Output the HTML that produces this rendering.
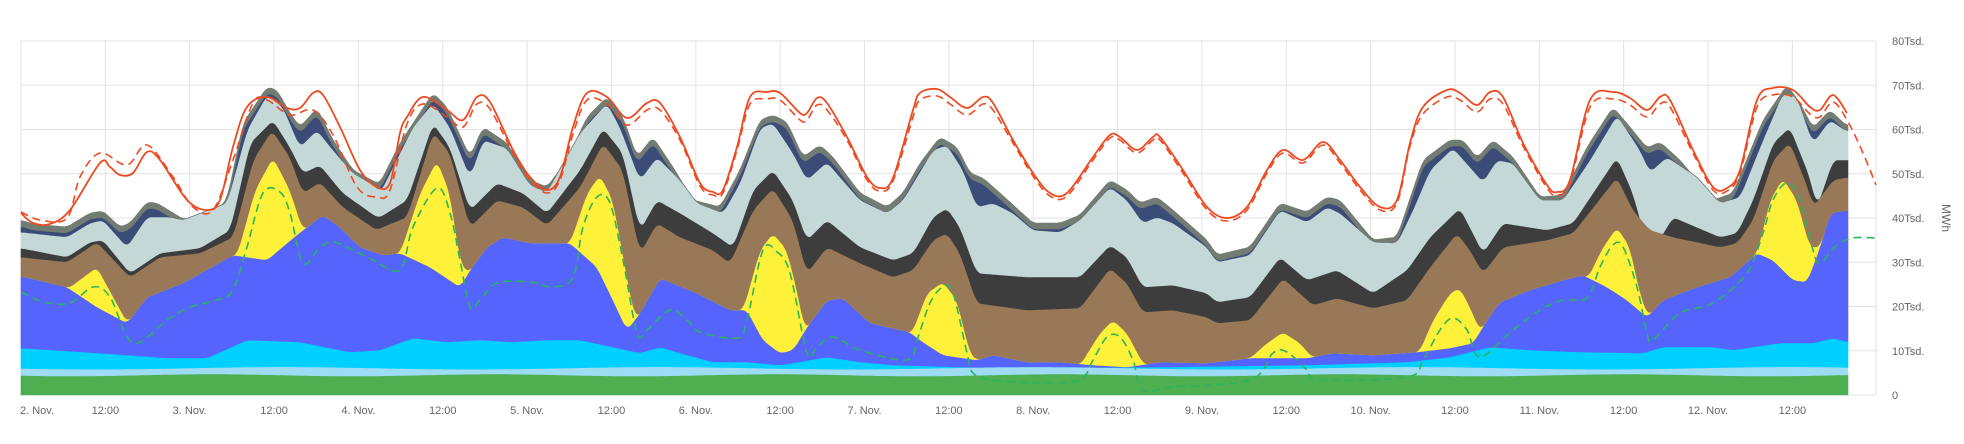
<!DOCTYPE html>
<html><head><meta charset="utf-8"><style>
html,body{margin:0;padding:0;background:#fff;}
svg{display:block;font-family:"Liberation Sans","DejaVu Sans",sans-serif;}
</style></head><body>
<svg id="c" width="1964" height="444" viewBox="0 0 1964 444" xmlns="http://www.w3.org/2000/svg">
<g id="grid"></g><g id="areas"></g><g id="lines"></g><g id="labels"></g>
</svg>
<script>
const NS="http://www.w3.org/2000/svg";
function el(tag,attrs,parent,text){const e=document.createElementNS(NS,tag);for(const k in attrs)e.setAttribute(k,attrs[k]);if(text!==undefined)e.textContent=text;parent.appendChild(e);return e;}
const L=21,R=1876,T=41,B=395,XE=1848;
const g=document.getElementById('grid'),ar=document.getElementById('areas'),ln=document.getElementById('lines'),lb=document.getElementById('labels');
for(let v=0;v<=80;v+=10){const y=B-v*4.425;el('line',{x1:L,x2:R,y1:y,y2:y,stroke:'#e3e3e3','stroke-width':1},g);
 el('text',{x:1892,y:y+4,'font-size':11,fill:'#666'},lb,v===0?'0':v+'Tsd.');}
const xl=["2. Nov.","12:00","3. Nov.","12:00","4. Nov.","12:00","5. Nov.","12:00","6. Nov.","12:00","7. Nov.","12:00","8. Nov.","12:00","9. Nov.","12:00","10. Nov.","12:00","11. Nov.","12:00","12. Nov.","12:00"];
xl.forEach((t,i)=>{const x=L+i*84.35;el('line',{x1:x,x2:x,y1:T,y2:B,stroke:'#e3e3e3','stroke-width':1},g);
 el('text',{x:i===0?L-1:x,y:414,'font-size':11,fill:'#666','text-anchor':i===0?'start':'middle'},lb,t);});
el('line',{x1:R,x2:R,y1:T,y2:B,stroke:'#e3e3e3'},g);
el('text',{x:1942,y:218,'font-size':12,fill:'#666','text-anchor':'middle',transform:'rotate(90 1942 218)'},lb,'MWh');

function P(s){const a=s.trim().split(/\s+/).map(Number);const r=[];for(let i=0;i<a.length;i+=2)r.push([a[i],a[i+1]]);return r;}
function f(pts){return x=>{if(x<=pts[0][0])return pts[0][1];for(let i=1;i<pts.length;i++){if(x<=pts[i][0]){const[a,b]=pts[i-1],[c,d]=pts[i];return b+(d-b)*(x-a)/(c-a);}}return pts[pts.length-1][1];};}

const B10=f(P(`21 220 33 224 67 227 90 213 103 211 120 227 130 223 147 202 157 203 183 219 207 217 227 200 243 123 267 87 277 90 290 113 300 127 317 108 333 140 353 170 377 183 380 183 400 143 433 93 447 107 470 157 483 127 507 143 530 180 547 187 567 160 587 117 607 97 623 117 637 157 653 137 673 167 693 200 720 207 740 170 760 120 773 115 787 122 803 157 820 145 833 157 860 193 887 207 903 193 920 163 940 137 957 147 970 173 983 178 1000 193 1033 223 1060 223 1080 215 1110 180 1127 190 1140 203 1157 197 1173 210 1207 240 1217 255 1250 247 1280 203 1307 212 1327 197 1340 200 1373 240 1397 237 1423 160 1450 140 1463 140 1477 158 1493 140 1513 157 1540 197 1563 195 1587 147 1613 107 1630 127 1647 148 1660 142 1680 160 1713 200 1733 193 1763 120 1787 85 1800 103 1813 128 1830 110 1848 127`));
const B8=f(P(`21 232 67 237 90 223 103 220 127 247 147 217 170 217 183 220 227 203 247 130 267 95 283 107 300 147 317 130 333 150 353 173 377 187 380 193 413 127 433 103 450 127 470 177 483 140 507 148 530 185 547 192 580 133 607 103 620 127 640 180 657 157 680 180 697 203 723 213 740 183 760 128 773 123 793 153 807 180 827 162 860 200 887 213 903 200 933 150 947 145 963 170 977 207 993 203 1013 213 1033 230 1060 232 1080 220 1110 187 1127 200 1143 223 1157 217 1173 223 1207 247 1217 262 1250 255 1280 210 1307 222 1327 207 1340 213 1373 242 1397 243 1413 210 1430 170 1453 148 1470 167 1483 182 1497 160 1513 163 1540 200 1563 200 1590 160 1617 115 1640 150 1650 172 1667 157 1697 177 1720 203 1740 197 1763 140 1783 93 1797 97 1813 143 1830 120 1848 132`));
const B7=f(P(`21 248 67 257 90 242 103 240 130 273 160 253 200 248 230 230 250 143 273 120 290 147 303 173 320 165 343 193 377 217 380 217 407 200 433 123 450 147 470 210 497 183 523 193 547 213 580 170 603 128 623 153 640 230 657 200 680 213 713 233 733 247 753 190 773 170 793 200 807 240 827 220 860 247 893 260 913 253 933 217 947 208 960 227 977 273 1027 277 1080 277 1110 245 1127 257 1143 287 1173 285 1207 293 1217 302 1250 297 1280 257 1307 280 1337 270 1373 293 1407 270 1430 237 1460 208 1473 233 1483 253 1503 223 1547 230 1573 223 1617 157 1633 193 1650 255 1673 217 1720 237 1737 233 1753 200 1773 143 1790 127 1810 177 1817 207 1833 160 1848 160`));
const B6=f(P(`21 257 67 262 97 242 130 277 160 257 200 253 233 237 253 160 272 130 290 157 303 193 320 182 343 207 377 230 380 228 407 217 433 132 450 153 470 227 497 200 523 207 547 225 580 187 603 143 623 170 640 253 657 223 680 237 713 250 730 263 753 210 773 188 793 220 807 273 827 247 860 263 893 277 913 270 933 240 947 233 960 253 977 303 1027 310 1080 308 1110 268 1127 283 1143 312 1173 310 1207 317 1217 323 1250 320 1283 278 1313 305 1337 298 1373 308 1407 300 1430 267 1457 233 1470 250 1483 273 1503 247 1547 240 1573 233 1617 177 1633 210 1650 230 1673 237 1720 247 1737 243 1753 220 1773 160 1790 142 1810 193 1813 207 1833 180 1848 177`));
const B4=f(P(`21 276 67 287 97 307 127 323 147 297 183 283 233 255 267 260 287 243 303 230 323 215 340 227 360 247 383 255 400 253 430 267 460 287 470 270 487 247 503 237 530 243 570 243 597 267 613 300 627 330 640 313 660 278 697 293 730 310 747 310 763 340 780 353 793 350 807 327 827 300 843 298 870 323 910 332 920 340 943 355 977 360 993 355 1027 362 1060 362 1093 365 1127 367 1160 362 1207 363 1250 358 1307 358 1333 353 1373 355 1417 352 1450 348 1473 343 1487 320 1500 302 1530 290 1563 280 1583 275 1607 287 1627 300 1647 317 1663 300 1697 287 1730 277 1757 253 1773 260 1793 280 1807 282 1820 247 1830 213 1848 210`));
const peaks=[P(`70 287 97 267 127 322`),P(`237 255 255 190 273 157 290 190 303 230`),P(`400 253 420 193 437 160 450 193 460 260 470 277`),P(`570 243 587 193 600 175 613 200 627 277 637 327`),P(`743 310 760 250 773 233 787 250 797 290 807 340`),P(`913 330 927 293 943 282 957 300 970 353 977 360`),P(`1083 360 1100 333 1113 320 1127 333 1143 363`),P(`1250 358 1267 343 1283 332 1300 343 1313 358`),P(`1420 350 1433 320 1450 293 1460 288 1470 307 1483 337`),P(`1590 273 1603 247 1617 227 1630 247 1640 293 1647 313`),P(`1757 253 1770 200 1783 178 1797 200 1810 247 1820 247`)].map(p=>({a:p[0][0],b:p[p.length-1][0],fn:f(p)}));
const B3=f(P(`21 348 83 352 127 355 167 358 207 358 247 340 300 342 350 352 380 350 413 338 447 342 480 340 513 342 547 340 580 340 613 347 640 353 660 347 680 353 713 362 747 362 780 365 793 363 827 357 860 362 893 365 960 367 1027 368 1160 367 1307 365 1407 362 1450 357 1490 347 1530 350 1580 352 1643 353 1663 347 1713 347 1733 350 1780 343 1813 343 1833 338 1848 342`));
const B2=x=>368+Math.sin(x/60)*1.2, B1=x=>375+Math.sin(x/45)*1;
function B5(x){const b4=B4(x);for(const p of peaks){if(x>=p.a&&x<=p.b)return Math.min(b4,p.fn(x));}return b4;}
const xs=[];for(let x=L;x<=XE;x+=1)xs.push(x);
function smooth(fn,w){const v=xs.map(fn);return v.map((_,i)=>{let s=0,n=0;for(let j=-w;j<=w;j++){const k=i+j;if(k>=0&&k<v.length){s+=v[k];n++;}}return s/n;});}
const W=4;
const S=[xs.map(()=>B),smooth(B1,W),smooth(B2,W),smooth(B3,W),smooth(B4,W),smooth(B5,W),smooth(B6,W),smooth(B7,W),smooth(B8,W),smooth(x=>B10(x)+6,W),smooth(B10,W)];
const C=xs.map((x,i)=>{let prev=B;return S.map(a=>{let y=a[i];if(y>prev)y=prev;prev=y;return y;});});
const cols=['#4daf50','#9ddcf3','#00d0ff','#5564fc','#fff03a','#997857','#3d3d3d','#c4d8d7','#3b4c78','#737c73'];
for(let k=0;k<10;k++){let d='M'+xs[0]+' '+C[0][k+1].toFixed(1);
 for(let i=1;i<xs.length;i++)d+='L'+xs[i]+' '+C[i][k+1].toFixed(1);
 for(let i=xs.length-1;i>=0;i--)d+='L'+xs[i]+' '+C[i][k].toFixed(1);
 el('path',{d:d+'Z',fill:cols[k],stroke:cols[k],'stroke-width':0.6},ar);}
const redS=P(`21 213 33 223 50 224 70 210 100 163 110 167 120 175 133 173 147 152 160 160 187 200 207 210 220 200 233 147 247 107 267 97 287 108 300 108 313 93 323 95 340 127 360 170 377 187 390 183 400 133 407 117 423 97 447 110 463 120 477 97 490 102 513 150 530 177 547 190 560 177 573 127 587 93 607 97 627 118 647 103 660 103 680 137 700 183 713 192 723 190 737 147 750 97 767 92 780 93 800 113 807 113 817 98 827 103 847 137 867 177 880 188 893 178 913 110 920 93 937 89 950 97 967 108 983 97 993 103 1013 140 1033 173 1050 193 1067 193 1093 157 1110 135 1120 137 1137 150 1153 137 1160 137 1183 170 1207 207 1227 218 1247 207 1267 170 1283 150 1303 160 1323 142 1340 160 1360 187 1380 207 1397 200 1410 143 1423 107 1447 90 1460 93 1477 105 1490 92 1503 97 1523 143 1547 185 1557 192 1570 180 1590 100 1613 92 1630 98 1647 110 1660 97 1670 100 1693 150 1713 187 1727 188 1740 170 1757 100 1773 88 1793 90 1810 107 1820 110 1833 95 1847 113`);
const redD=P(`21 212 40 220 67 218 80 177 100 153 127 165 147 145 173 177 193 207 213 210 233 160 253 103 267 100 290 115 313 110 333 135 357 187 377 197 390 190`).concat(redS.filter(p=>p[0]>400).map(([x,y])=>[x,y+(y<130?7:3)])).concat([[1863,153],[1876,185]]);
const grn=P(`21 292 43 302 70 303 93 287 110 297 133 343 167 320 190 307 217 300 233 290 247 247 263 193 280 192 290 213 303 263 320 247 333 242 353 250 373 260 400 270 413 227 437 188 450 213 460 260 470 307 480 300 497 283 530 282 553 287 573 277 583 227 597 197 610 203 623 260 637 333 647 330 670 310 687 320 700 332 737 338 747 320 763 250 777 252 790 273 807 353 817 347 833 337 860 350 907 360 917 340 930 303 943 287 953 293 967 353 973 373 993 380 1043 383 1080 380 1093 360 1107 337 1120 337 1133 360 1143 390 1173 387 1250 380 1273 353 1287 352 1307 370 1320 380 1407 377 1423 360 1440 330 1453 318 1467 330 1480 357 1513 330 1540 310 1563 300 1587 298 1600 267 1613 245 1623 247 1637 287 1647 333 1653 340 1680 313 1713 303 1747 273 1763 233 1773 200 1787 183 1800 200 1813 250 1820 263 1837 245 1853 238 1876 238`);
function cr(p){let d='M'+p[0][0]+' '+p[0][1];for(let i=0;i<p.length-1;i++){const p0=p[Math.max(0,i-1)],p1=p[i],p2=p[i+1],p3=p[Math.min(p.length-1,i+2)];
 const c1=[p1[0]+(p2[0]-p0[0])/6,p1[1]+(p2[1]-p0[1])/6],c2=[p2[0]-(p3[0]-p1[0])/6,p2[1]-(p3[1]-p1[1])/6];
 d+=`C${c1[0].toFixed(1)} ${c1[1].toFixed(1)} ${c2[0].toFixed(1)} ${c2[1].toFixed(1)} ${p2[0]} ${p2[1]}`;}return d;}
el('path',{d:cr(redD),fill:'none',stroke:'#ee4a22','stroke-width':1.6,'stroke-dasharray':'8,5','stroke-linejoin':'round'},ln);
el('path',{d:cr(redS),fill:'none',stroke:'#ee4a22','stroke-width':1.8,'stroke-linejoin':'round'},ln);
el('path',{d:cr(grn),fill:'none',stroke:'#2bb55a','stroke-width':1.6,'stroke-dasharray':'8,5','stroke-linejoin':'round'},ln);
</script>
</body></html>
